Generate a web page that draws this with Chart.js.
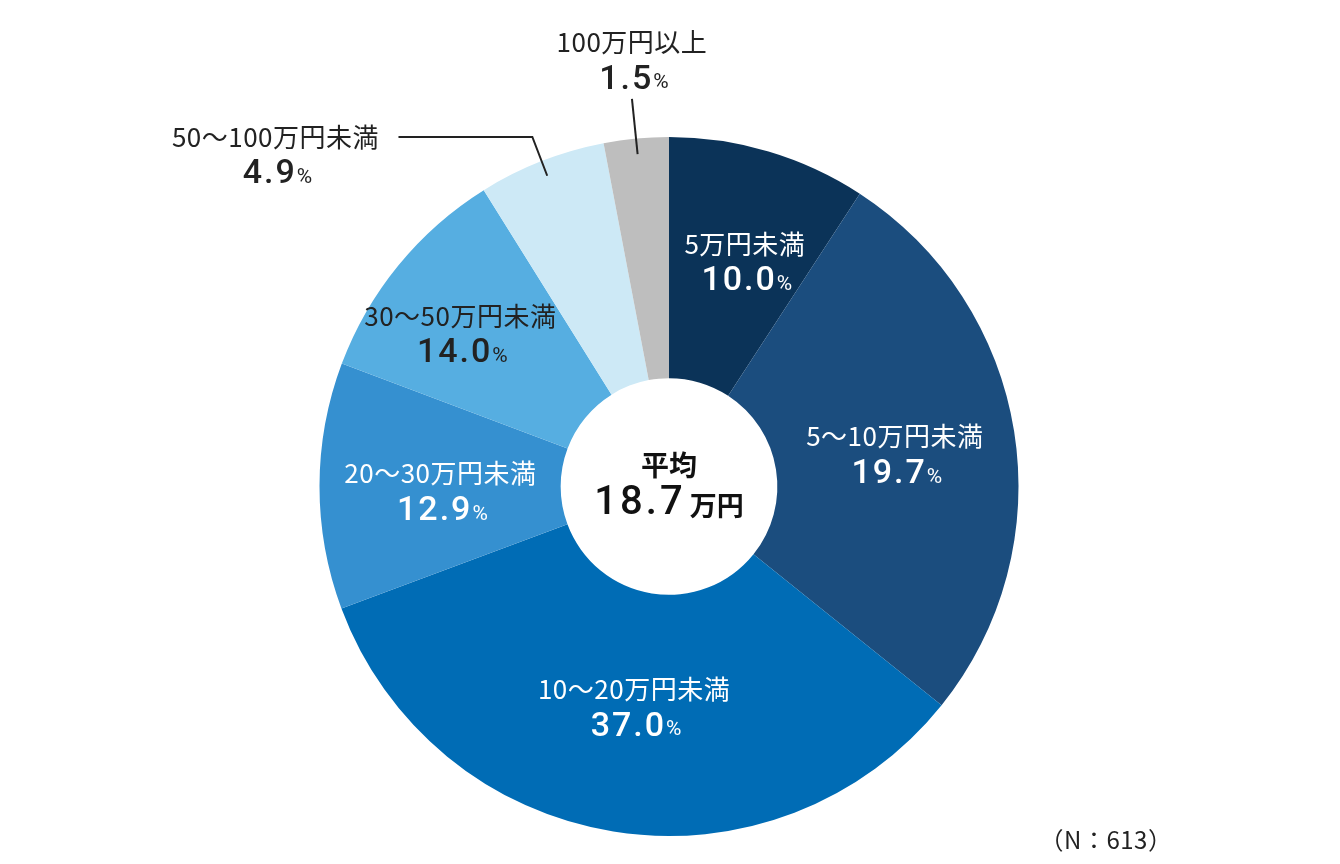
<!DOCTYPE html>
<html lang="ja">
<head>
<meta charset="utf-8">
<title>金額の分布</title>
<script src="https://cdn.jsdelivr.net/npm/chart.js@4.4.1/dist/chart.umd.min.js"></script>
<style>
  html, body { margin: 0; padding: 0; background: #fff; }
  canvas { display: block; }
</style>
</head>
<body>
<canvas id="donut" width="1340" height="864"></canvas>
<script>
// 区分
const categories = ['5万円未満', '5～10万円未満', '10～20万円未満', '20～30万円未満', '30～50万円未満', '50～100万円未満', '100万円以上'];
// 表示されている割合（%）
const percents = ['10.0', '19.7', '37.0', '12.9', '14.0', '4.9', '1.5'];
// 元の図の扇形は比率どおりに描かれていないので、扇の角度は図から読み取った値
const sliceShares = [9.2, 26.6, 33.6, 11.4, 10.4, 5.9, 3.0];
const colors = ['#0b3358', '#1b4d7e', '#006cb5', '#3590d0', '#56aee1', '#cde9f6', '#bebebe'];
const averageValue = '18.7';
const sampleNote = '（N：613）';

// ラベル位置（中心からの位置、外半径を1とする）
const labelSpots = [[0.217, -0.64], [0.646, -0.089], [-0.1, 0.634], [-0.654, 0.017], [-0.597, -0.434], [-1.126, -0.946], [-0.106, -1.217]];
const labelColors = ['#fff', '#fff', '#fff', '#fff', '#222', '#222', '#222'];
// 引き出し線（外側ラベルのみ）：線の始点側の点、終点は扇の中央
const leaders = {
    5: [[-0.774, -1.0], [-0.391, -1.0]],
    6: [[-0.106, -1.109]]
};

const jpFont = '"Noto Sans CJK JP", "Noto Sans", sans-serif';
const numFont = 'Roboto, "Noto Sans", sans-serif';

function drawValue(ctx, text, x, y, color, big, small) {
    ctx.save();
    ctx.fillStyle = color;
    ctx.textBaseline = 'middle';
    ctx.textAlign = 'left';
    ctx.font = '500 ' + big + 'px ' + numFont;
    ctx.letterSpacing = '2px';
    const w1 = ctx.measureText(text).width;
    ctx.font = '400 ' + small + 'px ' + numFont;
    ctx.letterSpacing = '0px';
    const w2 = ctx.measureText('%').width;
    const start = x - (w1 + w2) / 2;
    ctx.font = '500 ' + big + 'px ' + numFont;
    ctx.letterSpacing = '2px';
    ctx.fillText(text, start, y);
    ctx.font = '400 ' + small + 'px ' + numFont;
    ctx.letterSpacing = '0px';
    ctx.fillText('%', start + w1, y + 3);
    ctx.restore();
}

const labelPlugin = {
    id: 'sliceLabels',
    afterDatasetsDraw(chart) {
        const ctx = chart.ctx;
        const arcs = chart.getDatasetMeta(0).data;
        const cx = arcs[0].x, cy = arcs[0].y;
        const R = arcs[0].outerRadius;

        arcs.forEach((arc, i) => {
            const lx = cx + labelSpots[i][0] * R;
            const ly = cy + labelSpots[i][1] * R;

            if (leaders[i]) {
                const mid = (arc.startAngle + arc.endAngle) / 2;
                const ex = cx + Math.cos(mid) * R * 0.955;
                const ey = cy + Math.sin(mid) * R * 0.955;
                ctx.save();
                ctx.strokeStyle = '#222';
                ctx.lineWidth = 2;
                ctx.beginPath();
                leaders[i].forEach((p, k) => {
                    const px = cx + p[0] * R, py = cy + p[1] * R;
                    if (k === 0) ctx.moveTo(px, py); else ctx.lineTo(px, py);
                });
                ctx.lineTo(ex, ey);
                ctx.stroke();
                ctx.restore();
            }

            ctx.save();
            ctx.fillStyle = labelColors[i];
            ctx.font = '400 26px ' + jpFont;
            ctx.letterSpacing = '0.5px';
            ctx.textAlign = 'center';
            ctx.textBaseline = 'middle';
            ctx.fillText(categories[i], lx, ly - 19);
            ctx.restore();
            drawValue(ctx, percents[i], lx + 2, ly + 19, labelColors[i], 34, 21);
        });

        // 中央の平均
        ctx.save();
        ctx.fillStyle = '#111';
        ctx.textAlign = 'center';
        ctx.textBaseline = 'middle';
        ctx.font = '700 28px ' + jpFont;
        ctx.fillText('平均', cx, cy - 21);
        ctx.textAlign = 'left';
        ctx.font = '500 40px ' + numFont;
        ctx.letterSpacing = '3px';
        const w1 = ctx.measureText(averageValue).width;
        ctx.letterSpacing = '0px';
        ctx.font = '700 27px ' + jpFont;
        const w2 = ctx.measureText('万円').width;
        const sx = cx - (w1 + 4 + w2) / 2;
        ctx.font = '500 40px ' + numFont;
        ctx.letterSpacing = '3px';
        ctx.fillText(averageValue, sx, cy + 17);
        ctx.letterSpacing = '0px';
        ctx.font = '700 27px ' + jpFont;
        ctx.fillText('万円', sx + w1 + 4, cy + 19);

        // N数
        ctx.fillStyle = '#222';
        ctx.textAlign = 'center';
        ctx.font = '400 24px ' + jpFont;
        ctx.letterSpacing = '0.5px';
        ctx.fillText(sampleNote, 1106, 840);
        ctx.restore();
    }
};

const donut = new Chart(document.getElementById('donut').getContext('2d'), {
    type: 'doughnut',
    data: {
        labels: categories,
        datasets: [{
            data: sliceShares,
            backgroundColor: colors,
            borderWidth: 0,
            hoverOffset: 0
        }]
    },
    options: {
        responsive: false,
        devicePixelRatio: 1,
        animation: false,
        cutout: '31%',
        layout: {
            padding: { top: 137, bottom: 28, left: 0, right: 2 }
        },
        plugins: {
            legend: { display: false },
            tooltip: { enabled: false }
        }
    },
    plugins: [labelPlugin]
});
</script>
</body>
</html>
